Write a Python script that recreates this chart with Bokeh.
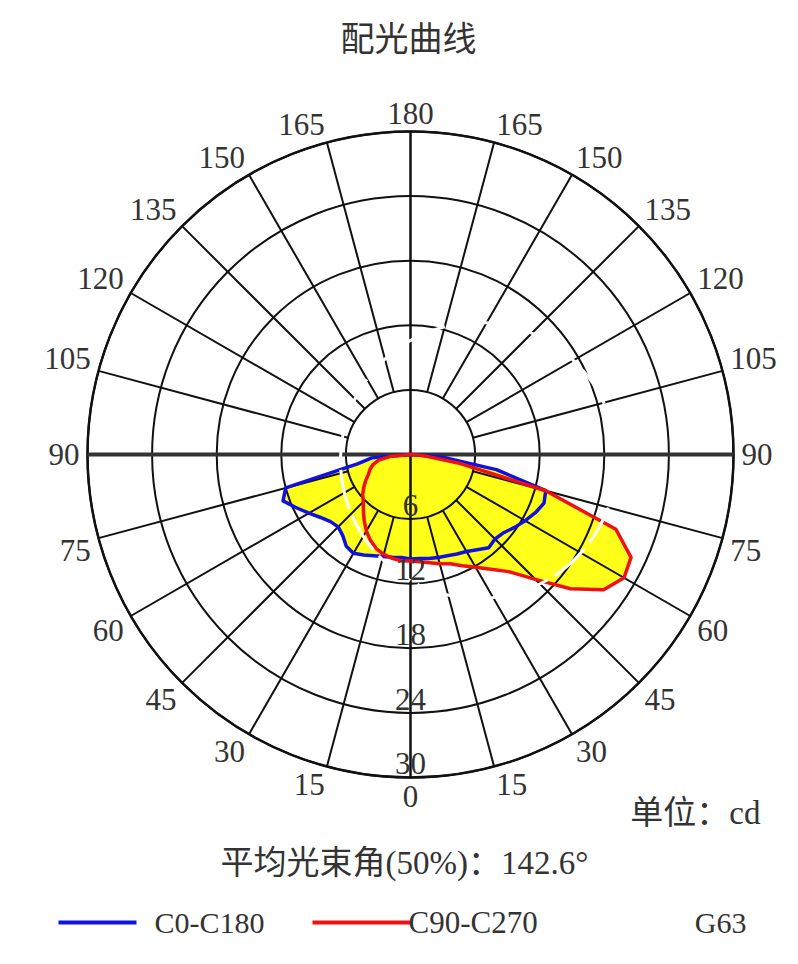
import numpy as np
from bokeh.plotting import figure
from bokeh.models import Range1d
from bokeh.core.properties import value
from bokeh.embed import file_html
from bokeh.resources import INLINE

# ---------------- data ----------------
gamma = [0, 5, 10, 15, 20, 25, 30, 35, 40, 45, 50, 55, 60, 65, 70, 75, 80, 85, 90]
c0 = [9.7, 9.7, 9.8, 9.9, 10.0, 10.2, 10.4, 10.8, 11.3, 11.1, 11.3, 11.8, 12.3, 12.8, 13.2, 13.0, 8.1, 3.0, 0.0]
c180 = [9.7, 9.6, 9.7, 9.8, 10.0, 10.3, 10.6, 10.4, 9.8, 9.5, 9.7, 10.2, 10.9, 11.7, 12.6, 12.0, 5.0, 3.6, 0.0]
c90 = [9.9, 10.0, 10.2, 10.5, 10.8, 11.4, 12.1, 13.0, 14.2, 16.4, 19.4, 21.9, 22.9, 22.6, 20.3, 13.0, 4.5, 1.2, 0.0]
c270 = [9.9, 9.9, 9.8, 9.6, 9.3, 8.8, 8.2, 7.5, 6.8, 6.2, 5.8, 5.3, 4.8, 4.3, 4.0, 3.6, 3.0, 1.8, 0.0]

ring_values = [6, 12, 18, 24, 30]
ring_labels = ["6", "12", "18", "24", "30"]
angle_ticks = [0, 15, 30, 45, 60, 75, 90, 105, 120, 135, 150, 165, 180]

title_text = "配光曲线"
unit_text = "单位：cd"
beam_text = "平均光束角(50%)：142.6°"
legend_labels = ["C0-C180", "C90-C270"]
standard_text = "G63"

# ---------------- layout ----------------
W, H = 782, 948
RMAX = 30.0
S = 323.0 / RMAX          # px per cd
CX, CY = 410.0, 454.0     # centre in figure px

def dx(page_x):
    return (page_x - CX) / S

def dy(page_y):
    return (CY - page_y) / S

p = figure(width=W, height=H,
           x_range=Range1d(-CX / S, (W - CX) / S),
           y_range=Range1d(-(H - CY) / S, CY / S),
           x_axis_type=None, y_axis_type=None,
           output_backend="svg", toolbar_location=None,
           min_border=0)
p.outline_line_color = None
p.background_fill_color = "white"
p.border_fill_color = "white"
p.grid.visible = False

SERIF = value("'Liberation Serif', 'Noto Sans CJK SC'")
TXT = "#333333"

def curve_xy(right, left):
    g = np.radians(gamma)
    r = np.array(right)
    l = np.array(left)
    xs = list(r * np.sin(g)) + list((-l * np.sin(g))[::-1])
    ys = list(-r * np.cos(g)) + list((-l * np.cos(g))[::-1])
    xs.append(xs[0]); ys.append(ys[0])
    return xs, ys

bx, by = curve_xy(c0, c180)
rx, ry = curve_xy(c90, c270)

# fills
p.patch(bx, by, fill_color="#FFFF1A", line_color=None)
p.patch(rx, ry, fill_color="#FFFF1A", line_color=None)

# grid rings
p.circle(x=[0] * len(ring_values), y=[0] * len(ring_values), radius=ring_values,
         fill_color=None, line_color="#111111", line_width=2)
p.circle(x=[0], y=[0], radius=[RMAX], fill_color=None, line_color="#111111", line_width=2.5)

# spokes
sx, sy = [], []
for a in angle_ticks:
    if a in (0, 90, 180):
        continue
    t = np.radians(a)
    for sgn in (-1, 1):
        sx.append([sgn * ring_values[0] * np.sin(t), sgn * RMAX * np.sin(t)])
        sy.append([-ring_values[0] * np.cos(t), -RMAX * np.cos(t)])
p.multi_line(sx, sy, line_color="#111111", line_width=2)
p.line([0, 0], [-RMAX, RMAX], line_color="#111111", line_width=2.5)
p.line([-RMAX, RMAX], [0, 0], line_color="#333333", line_width=4)

# curves
p.line(bx, by, line_color="#1010E0", line_width=3.5, line_join="round")
p.line(rx, ry, line_color="#F01010", line_width=3.5, line_join="round")

# white dashed circle
p.circle(x=[dx(478)], y=[dy(460)], radius=[138 / S], fill_color=None,
         line_color="white", line_width=3, line_dash="40 8")

# angle labels
RL = 331.0 / S
lx, ly, lt, la, lb = [], [], [], [], []
for a in angle_ticks:
    t = np.radians(a)
    sides = (0,) if a in (0, 180) else (-1, 1)
    for sgn in sides:
        lx.append(sgn * RL * np.sin(t) if sgn else 0.0)
        ly.append(-RL * np.cos(t))
        lt.append(str(a))
        if a == 0:
            la.append("center"); lb.append("top")
        elif a == 180:
            la.append("center"); lb.append("bottom")
        else:
            la.append("right" if sgn < 0 else "left")
            lb.append("top" if a < 90 else ("middle" if a == 90 else "bottom"))
for i in range(len(lt)):
    p.text(x=[lx[i]], y=[ly[i]], text=[lt[i]], text_align=la[i], text_baseline=lb[i],
           text_font=SERIF, text_font_size="31px", text_color=TXT)

# ring labels
p.text(x=[0] * len(ring_values), y=[-(v - 0.3) for v in ring_values], text=ring_labels,
       text_align="center", text_baseline="bottom", text_font=SERIF,
       text_font_size="31px", text_color=TXT)

# title and texts
p.text(x=[dx(408)], y=[dy(36)], text=[title_text], text_align="center", text_baseline="middle",
       text_font=value("Noto Sans CJK SC"), text_font_size="34px", text_color=TXT)
p.text(x=[dx(760)], y=[dy(812)], text=[unit_text], text_align="right", text_baseline="middle",
       text_font=SERIF, text_font_size="33px", text_color=TXT)
p.text(x=[dx(404)], y=[dy(862)], text=[beam_text], text_align="center", text_baseline="middle",
       text_font=SERIF, text_font_size="33px", text_color=TXT)

# legend
p.line([dx(58), dx(136)], [dy(922), dy(922)], line_color="#1010E0", line_width=4)
p.text(x=[dx(154)], y=[dy(922)], text=[legend_labels[0]], text_align="left", text_baseline="middle",
       text_font=SERIF, text_font_size="30px", text_color=TXT)
p.line([dx(312), dx(410)], [dy(922), dy(922)], line_color="#F01010", line_width=4)
p.text(x=[dx(408)], y=[dy(922)], text=[legend_labels[1]], text_align="left", text_baseline="middle",
       text_font=SERIF, text_font_size="31px", text_color=TXT)
p.text(x=[dx(746)], y=[dy(922)], text=[standard_text], text_align="right", text_baseline="middle",
       text_font=SERIF, text_font_size="30px", text_color=TXT)

open("out.html", "w").write(file_html(p, INLINE))
